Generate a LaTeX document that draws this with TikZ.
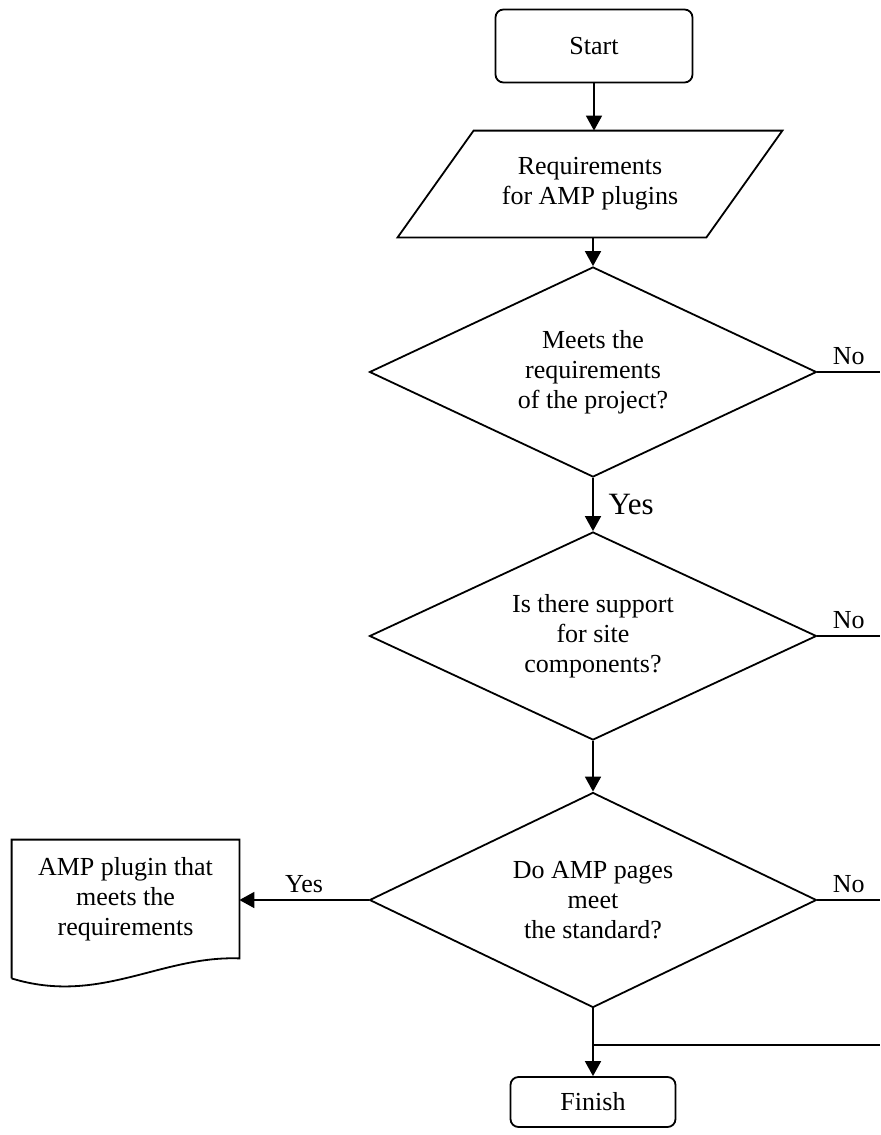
\documentclass[tikz,border=0pt]{standalone}
\usepackage{fontspec}
\setmainfont{Liberation Serif}
\usetikzlibrary{shapes.geometric,arrows.meta}
\tikzset{
  flowline/.style={line width=0.9pt},
  terminal/.style={draw,flowline,rounded corners=4pt,inner sep=0pt},
  decision/.style={draw,flowline,diamond,shape aspect=2.15,inner sep=0pt,
    minimum width=223.5pt,align=center},
  txt/.style={inner sep=0pt,align=center}
}
\begin{document}
\begin{tikzpicture}[x=0.5pt,y=-0.5pt,>={Triangle[width=8pt,length=7.5pt]},
    font=\fontsize{13}{15}\selectfont]
\useasboundingbox (0,0) rectangle (880,1135);
\coordinate (rim) at (880,0);
\node[terminal,minimum width=98.5pt,minimum height=36.5pt] (start) at (594,46) {Start};
\node[txt,minimum width=192pt,minimum height=53pt] (req) at (590,184) {Requirements\\for AMP plugins};
\draw[flowline] ([xshift=38pt]req.north west) -- (req.north east)
  -- ([xshift=-38pt]req.south east) -- (req.south west) -- cycle;
\node[decision,minimum height=105pt] (d1) at (593,372) {Meets the\\requirements\\of the project?};
\node[decision,minimum height=104pt] (d2) at (593,636) {Is there support\\for site\\components?};
\node[decision,minimum height=107.5pt] (d3) at (593,900) {Do AMP pages\\meet\\the standard?};
\node[txt,minimum width=113.5pt,minimum height=59pt] (doc) at (125.5,899) {AMP plugin that\\meets the\\requirements};
\draw[flowline] ([yshift=-10pt]doc.south west) -- (doc.north west) -- (doc.north east) -- (doc.south east)
  .. controls +(-79,-3) and +(88,27) .. ([yshift=-10pt]doc.south west);
\node[terminal,minimum width=82.5pt,minimum height=25pt] (finish) at (593,1102) {Finish};
\coordinate (merge) at (593,1045);
% connectors
\draw[flowline,->] (start) -- (start.south |- req.north);
\draw[flowline,->] (d1.north |- req.south) -- (d1.north);
\draw[flowline,->] (d1.south) -- node[right=4pt,font=\fontsize{15.5}{18}\selectfont] (yes1) {Yes} (d2.north);
\draw[flowline,->] (d2.south) -- (d3.north);
\draw[flowline,->] (d3.west) -- node[above] (yes3) {Yes} (d3.west -| doc.east);
\draw[flowline,->] (d3.south) -- (finish.north);
\draw[flowline] (d1.east) -- node[above] (no1) {No} (d1.east -| rim);
\draw[flowline] (d2.east) -- node[above] (no2) {No} (d2.east -| rim);
\draw[flowline] (d3.east) -- node[above] (no3) {No} (d3.east -| rim);
\draw[flowline] (merge) -- (merge -| rim);
\end{tikzpicture}
\end{document}
